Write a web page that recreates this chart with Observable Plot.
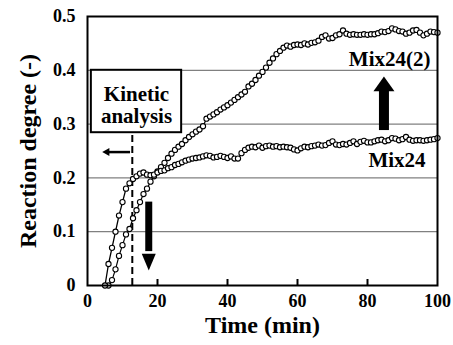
<!DOCTYPE html>
<html><head><meta charset="utf-8">
<script src="https://cdn.jsdelivr.net/npm/d3@7"></script>
<script src="https://cdn.jsdelivr.net/npm/@observablehq/plot@0.6"></script>
<style>body{margin:0;background:#fff;} svg{display:block}</style>
</head><body><div id="chart"></div>
<script>
// ---- data ----
const xTicks = [0, 20, 40, 60, 80, 100];
const yTicks = [0, 0.1, 0.2, 0.3, 0.4, 0.5];
const yTickLabels = ["0", "0.1", "0.2", "0.3", "0.4", "0.5"];
const gridValues = [0.1, 0.2, 0.3, 0.4];

// Mix24: one reading per minute, starting at 5 min
const mix24Start = 5;
const mix24 = [
  0.000, 0.040, 0.070, 0.100, 0.130, 0.155, 0.180, 0.190, 0.198, 0.203,
  0.208, 0.210, 0.206, 0.205, 0.206, 0.210, 0.213, 0.214, 0.218, 0.220,
  0.224, 0.226, 0.229, 0.232, 0.234, 0.236, 0.237, 0.238, 0.240, 0.242,
  0.241, 0.238, 0.239, 0.241, 0.239, 0.237, 0.240, 0.236, 0.236, 0.246,
  0.252, 0.256, 0.258, 0.257, 0.260, 0.256, 0.259, 0.260, 0.258, 0.259,
  0.257, 0.258, 0.257, 0.256, 0.253, 0.251, 0.255, 0.258, 0.257, 0.259,
  0.260, 0.262, 0.260, 0.261, 0.265, 0.268, 0.262, 0.261, 0.263, 0.262,
  0.265, 0.268, 0.263, 0.267, 0.269, 0.266, 0.266, 0.268, 0.270, 0.271,
  0.268, 0.270, 0.274, 0.273, 0.270, 0.272, 0.276, 0.271, 0.269, 0.270,
  0.270, 0.269, 0.270, 0.271, 0.272, 0.274
];

// Mix24(2): one reading per minute, starting at 6 min
const mix242Start = 6;
const mix242 = [
  0.000, 0.010, 0.030, 0.055, 0.075, 0.095, 0.105, 0.125, 0.140, 0.155,
  0.170, 0.180, 0.193, 0.203, 0.212, 0.220, 0.228, 0.237, 0.245, 0.252,
  0.258, 0.263, 0.270, 0.276, 0.281, 0.286, 0.290, 0.296, 0.310, 0.314,
  0.318, 0.322, 0.327, 0.331, 0.335, 0.340, 0.345, 0.350, 0.355, 0.360,
  0.370, 0.375, 0.382, 0.390, 0.397, 0.405, 0.414, 0.422, 0.430, 0.436,
  0.442, 0.446, 0.444, 0.447, 0.448, 0.447, 0.450, 0.448, 0.451, 0.452,
  0.455, 0.462, 0.465, 0.459, 0.460, 0.465, 0.467, 0.474, 0.468, 0.466,
  0.467, 0.466, 0.466, 0.467, 0.466, 0.467, 0.467, 0.469, 0.472, 0.471,
  0.473, 0.478, 0.476, 0.473, 0.472, 0.468, 0.470, 0.474, 0.475, 0.470,
  0.465, 0.468, 0.472, 0.471, 0.470
];

// annotations
const seriesLabels = [
  {text: "Mix24(2)", t: 98, v: 0.421},
  {text: "Mix24", t: 96.6, v: 0.232}
];
const boxLines = [
  {text: "Kinetic", t: 14, v: 0.356},
  {text: "analysis", t: 14, v: 0.314}
];
const kineticBox = {t1: 1.1, t2: 26.9, v1: 0.284, v2: 0.4};
const kineticTime = 12.8;
const leftArrow = {v: 0.248, from: 12.3, to: 4.2};
const downArrow = {t: 17.5, from: 0.155, to: 0.028};
const upArrow = {t: 84.7, from: 0.288, to: 0.3885};

// ---- build ----
const rows24 = mix24.map((v, i) => ({t: mix24Start + i, v}));
const rows242 = mix242.map((v, i) => ({t: mix242Start + i, v}));
const yTickRows = yTicks.map((v, i) => ({v, label: yTickLabels[i]}));

function headSymbol(dir, ratio) {
  return {draw(ctx, size) {
    const r = Math.sqrt(size / Math.PI), L = r * ratio;
    ctx.moveTo(0, 0);
    if (dir === "down") { ctx.lineTo(-r, -L); ctx.lineTo(r, -L); }
    else if (dir === "up") { ctx.lineTo(-r, L); ctx.lineTo(r, L); }
    else { ctx.lineTo(L, -r); ctx.lineTo(L, r); }
    ctx.closePath();
  }};
}

const W = 453, H = 345, mL = 87, mR = 16, mT = 16, mB = 60;
const plotH = H - mT - mB;
const tickLen = 6;
const serif = '"Liberation Serif", "Times New Roman", Times, serif';
const txt = {fontFamily: serif, fontWeight: "bold", fill: "black"};

const chart = Plot.plot({
  width: W, height: H,
  marginLeft: mL, marginRight: mR, marginTop: mT, marginBottom: mB,
  x: {domain: [0, 100], axis: null},
  y: {domain: [0, 0.5], axis: null},
  style: {fontFamily: serif, fontWeight: "bold", fontSize: "18px", color: "black", background: "white"},
  marks: [
    Plot.ruleY(gridValues, {stroke: "#808080", strokeWidth: 1.3}),
    Plot.rect([kineticBox], {x1: "t1", x2: "t2", y1: "v1", y2: "v2", fill: "white", stroke: "black", strokeWidth: 2}),
    Plot.ruleX([kineticTime], {y1: 0, y2: kineticBox.v1, stroke: "black", strokeWidth: 2, strokeDasharray: "7,4"}),
    Plot.ruleX(xTicks.slice(1, -1), {insetTop: plotH - tickLen, stroke: "black", strokeWidth: 2}),
    Plot.line(rows242, {x: "t", y: "v", stroke: "black", strokeWidth: 1.2}),
    Plot.line(rows24, {x: "t", y: "v", stroke: "black", strokeWidth: 1.3}),
    Plot.dot(rows242, {x: "t", y: "v", r: 2.6, fill: "white", stroke: "black", strokeWidth: 1.1}),
    Plot.dot(rows24, {x: "t", y: "v", r: 2.6, fill: "white", stroke: "black", strokeWidth: 1.1}),
    // arrows
    Plot.ruleY([leftArrow], {y: "v", x1: "from", x2: d => d.to + 1.5, stroke: "black", strokeWidth: 2.5}),
    Plot.dot([leftArrow], {x: "to", y: "v", r: 4, symbol: headSymbol("left", 1.8), fill: "black", stroke: "none"}),
    Plot.ruleX([downArrow], {x: "t", y1: "from", y2: d => d.to + 0.035, stroke: "black", strokeWidth: 7}),
    Plot.dot([downArrow], {x: "t", y: "to", r: 7, symbol: headSymbol("down", 2.4), fill: "black", stroke: "none"}),
    Plot.ruleX([upArrow], {x: "t", y1: "from", y2: d => d.to - 0.022, stroke: "black", strokeWidth: 10}),
    Plot.dot([upArrow], {x: "t", y: "to", r: 10.5, symbol: headSymbol("up", 1.4), fill: "black", stroke: "none"}),
    // texts
    Plot.text(boxLines, {x: "t", y: "v", text: "text", fontSize: 21, ...txt}),
    Plot.text(seriesLabels, {x: "t", y: "v", text: "text", textAnchor: "end", fontSize: 21, ...txt}),
    // tick labels
    Plot.text(yTickRows, {y: "v", text: "label", frameAnchor: "left", textAnchor: "end", lineAnchor: "middle", dx: -12, fontSize: 18, ...txt}),
    Plot.text(xTicks, {x: d => d, text: d => String(d), frameAnchor: "bottom", textAnchor: "middle", lineAnchor: "top", dy: 9, fontSize: 18, ...txt}),
    // axis titles
    Plot.text(["Time (min)"], {frameAnchor: "bottom", lineAnchor: "bottom", textAnchor: "middle", dy: 47, fontSize: 24, ...txt}),
    Plot.text(["Reaction degree (-)"], {frameAnchor: "left", textAnchor: "middle", lineAnchor: "middle", dx: -59, rotate: -90, fontSize: 24, ...txt}),
    Plot.frame({stroke: "black", strokeWidth: 2})
  ]
});
document.getElementById("chart").appendChild(chart);
</script>
</body></html>
